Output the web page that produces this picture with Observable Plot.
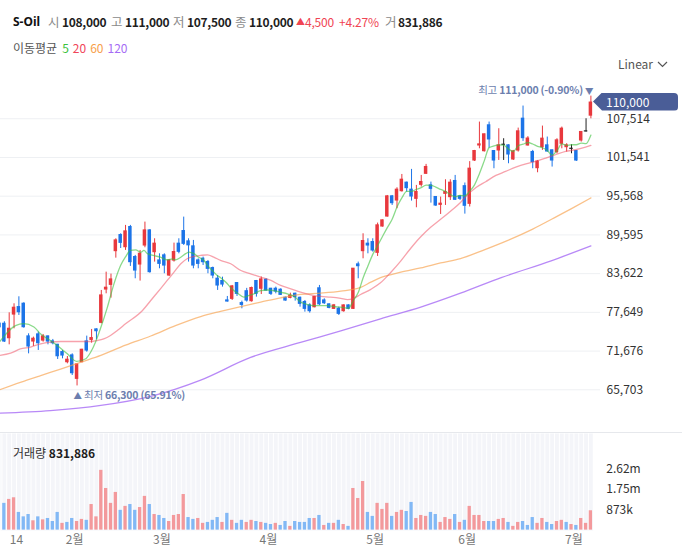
<!DOCTYPE html>
<html><head><meta charset="utf-8">
<script src="https://cdn.jsdelivr.net/npm/d3@7"></script>
<script src="https://cdn.jsdelivr.net/npm/@observablehq/plot@0.6"></script>
<style>
body{margin:0;background:#fff;}
#root{position:relative;width:682px;height:556px;overflow:hidden;font-family:"Noto Sans CJK KR","Noto Sans",sans-serif;color:#222;}
.abs{position:absolute;white-space:nowrap;}
.h{position:absolute;top:12px;font-size:12.5px;line-height:20px;white-space:nowrap;}
.g{color:#8a8a8a;}
.v{font-weight:600;color:#1e1e1e;font-size:12px;letter-spacing:-0.3px;}
.r{color:#f04452;font-size:12px;letter-spacing:-0.2px;}
</style></head><body><div id="root">
<span class="h" style="left:13px;font-weight:700;color:#111;font-family:'Noto Sans',sans-serif;font-size:12px">S-Oil</span>
<span class="h g" style="left:48px">시</span><span class="h v" style="left:62px">108,000</span>
<span class="h g" style="left:111px">고</span><span class="h v" style="left:125px">111,000</span>
<span class="h g" style="left:173px">저</span><span class="h v" style="left:187px">107,500</span>
<span class="h g" style="left:235px">종</span><span class="h v" style="left:249px">110,000</span>
<span class="h r" style="left:296px;font-size:9px">▲</span><span class="h r" style="left:305px">4,500</span>
<span class="h r" style="left:339px">+4.27%</span>
<span class="h g" style="left:385px">거</span><span class="h v" style="left:398px">831,886</span>
<div class="abs" style="left:13px;top:39px;font-size:12px;line-height:18px;color:#555;">이동평균<span style="margin-left:5px;color:#3cc13c">5</span><span style="margin-left:4px;color:#f0455a">20</span><span style="margin-left:4px;color:#f7a04a">60</span><span style="margin-left:4px;color:#a66cf5">120</span></div>
<div class="abs" style="left:618px;top:55px;font-size:12px;line-height:18px;color:#555;">Linear</div>
<svg class="abs" style="left:657px;top:61px" width="11" height="7"><polyline points="1,1 5.5,5.5 10,1" fill="none" stroke="#555" stroke-width="1.2"/></svg>
<div id="pricewrap" class="abs" style="left:0;top:75px;"></div>
<div class="abs" style="left:0;top:432px;width:682px;height:1px;background:#e6e8ec;"></div>
<div id="volwrap" class="abs" style="left:0;top:433px;"></div>
<div class="abs" style="left:13px;top:445px;font-size:12px;line-height:16px;color:#333;">거래량 <span style="font-weight:600;color:#1e1e1e">831,886</span></div>
</div>
<script>
// ---------- DATA ----------
const opens = [75900,75880,73670,77320,78450,78970,73930,73160,74240,73310,73930,73160,72640,71510,69970,71000,67400,69970,73160,73410,75010,76040,81180,81900,87100,89560,87710,90800,86170,85040,87970,90280,86940,85650,86430,83340,85650,88230,90180,88590,87820,85650,85910,85400,84470,82830,82470,79480,79740,82160,79070,80900,79380,82470,81300,82670,81280,81280,81130,79890,79890,80510,79890,79230,78710,78450,81350,79480,78870,78200,78200,77840,78710,78200,85040,87100,88230,88480,86840,90900,92440,95530,94910,96350,97640,96560,95170,97330,99030,97230,95430,94240,95940,95430,97900,95530,97100,94400,101080,103400,102520,106490,102520,102630,103500,103400,101240,102630,107510,103400,102370,99900,103140,103400,102630,102370,103660,103140,102880,102520,104170,105560,108000];
const highs = [76050,76200,77580,78970,80050,79120,74340,73830,74600,74240,74000,73470,72700,71770,70840,71250,69700,71950,73980,75010,75110,81030,83850,83550,89000,89770,91060,91060,86430,87200,91570,90400,89000,86680,86680,85750,88330,89000,92340,89000,88740,85900,86170,85650,84630,83340,83080,80100,81800,82200,79380,81350,81540,82570,83100,82830,81350,81540,81280,80000,80610,80610,80000,79480,78970,80100,81800,79740,78970,78870,78450,78800,78800,84400,85400,89770,89000,89000,91420,91900,95680,95680,96870,98920,97740,99700,97230,98770,100470,97740,95500,95430,98100,98100,98770,95680,97600,100900,102630,107000,105150,107000,102600,105970,104430,103500,102630,106070,109470,104750,102630,101080,106380,104690,102700,104430,106230,103660,103500,102630,105500,107510,111000];
const lows = [75200,73000,72640,75110,77170,75210,71250,72390,71770,73050,72640,72640,70380,70480,69710,67910,66300,69900,71510,72900,73410,75880,80510,79840,86010,87500,87200,84730,82830,82470,87610,83700,85400,84370,83600,83200,85400,86680,87970,85400,84370,84370,84880,83600,82830,81030,81540,79230,79480,80100,78200,79230,79230,80000,80400,80920,80250,80510,80250,79380,79740,79380,78450,77680,77530,78350,78700,78870,78200,78100,77170,77680,78050,78100,82830,85910,86680,86940,86270,90800,92340,94140,93630,96200,96200,94810,93780,96970,98920,94500,93990,92750,94140,94910,94910,94910,92800,93900,100930,102880,102370,102990,99800,101080,101080,100570,101080,102370,104020,103300,99800,99180,102630,102370,100060,102110,102880,102370,102110,100930,103910,105460,107500];
const closes = [75350,73160,75110,78350,77680,75370,72390,73570,72900,73930,73160,72900,70890,71000,70330,68270,69610,71870,71770,73670,74750,80250,81440,82720,88740,88380,90130,85400,84110,86680,90280,83860,88230,85140,84880,85650,86940,87000,88230,88000,84880,85140,85400,84370,83340,81800,81950,79330,81640,80510,78810,79480,81390,80510,82720,81030,80510,80870,80360,79480,80200,80000,78970,78200,77840,80000,78900,79070,78350,78710,77430,78710,78200,84370,84780,88640,87970,87200,91060,91830,95530,94500,96560,98100,96820,95530,96200,97740,100060,96710,94140,94400,96200,97640,95020,95170,94100,99800,102520,103550,105100,104330,101080,103400,103500,102010,102470,105560,104530,104450,100830,100900,104430,102470,101080,104170,105970,103400,102880,101080,105460,105560,110000];
// volume for candles 1..122 (candle 0 is cut off at the left edge)
const volumes = [1150000,1320000,1390000,760000,570000,670000,400000,570000,440000,500000,370000,760000,290000,330000,500000,370000,460000,420000,1100000,570000,2570000,1790000,1150000,1620000,850000,1020000,1100000,850000,970000,1450000,1100000,670000,630000,500000,370000,630000,670000,1530000,540000,460000,500000,290000,330000,420000,540000,330000,720000,420000,290000,420000,330000,420000,370000,330000,290000,240000,290000,200000,370000,160000,370000,330000,330000,500000,500000,630000,200000,290000,290000,420000,240000,160000,1790000,1360000,2090000,760000,590000,1150000,890000,1150000,590000,760000,850000,800000,1190000,500000,630000,590000,760000,670000,330000,540000,460000,670000,330000,420000,1020000,630000,630000,370000,370000,370000,460000,500000,330000,160000,330000,370000,200000,540000,290000,500000,330000,240000,370000,420000,330000,240000,200000,500000,290000,831886];
// 1 = up vs previous close (red), 0 = down (blue)
const volumeUp = [0,1,1,0,0,0,1,0,1,0,0,0,1,0,0,1,1,0,1,1,1,1,1,1,0,1,0,0,1,1,0,1,0,0,1,1,1,1,0,0,1,1,0,0,0,1,0,1,0,0,1,1,0,1,0,0,1,0,0,1,0,0,0,0,1,0,1,0,1,0,1,0,1,1,1,0,0,1,1,1,0,1,1,0,0,1,1,1,0,0,1,1,1,0,1,0,1,1,1,1,0,0,1,1,0,1,1,0,0,0,1,1,0,0,1,1,0,1,0,1,1,1];
const ma5 = [[0,73100],[3.3,75600],[5,75900],[7.1,75400],[8.5,74300],[10.5,73300],[12.3,72300],[14,71250],[15.9,70100],[17.8,70500],[18.8,71500],[19.8,73050],[20.9,75300],[22.2,78300],[23.6,82000],[25,84900],[26,86200],[27,87200],[28.1,87300],[29.1,86900],[29.8,87200],[30.5,86700],[31.9,86400],[33.2,86150],[34.6,85750],[35.7,85900],[36.3,85750],[37.4,86150],[38.4,86700],[39.1,86950],[40.1,86700],[41.1,86150],[42.2,85650],[42.9,84900],[43.9,84100],[44.9,83350],[45.6,83000],[46.7,82300],[47.7,81450],[49.1,80600],[50.4,80000],[51.5,80250],[52.5,80500],[53.9,81000],[55.3,81100],[56.6,81000],[58,80750],[59.4,80500],[60.8,80100],[62.1,79250],[63.5,78850],[64.9,78700],[66.3,78700],[67.6,78700],[69,78550],[70.4,78450],[72,78280],[73,79480],[74,80700],[75,82940],[76,84790],[77,86590],[78,87930],[79,89340],[80,90720],[81,92020],[82,93890],[83,95300],[84,96300],[85,96300],[86,96640],[87,96880],[88,97270],[89,97250],[90,96970],[91,96610],[92,96300],[93,95820],[94,95480],[95,95680],[96,95620],[97,96340],[98,97320],[99,99030],[100,101015],[101,103060],[102,103316],[103,103491],[104,103450],[105,102833],[106,102463],[107,103358],[108,103584],[109,103851],[110,103615],[111,103265],[112,103039],[113,102627],[114,101907],[115,102576],[116,103625],[117,103419],[118,103502],[119,103502],[120,103759],[121,103676],[122,104997]];
const ma20 = [[0,71000],[2.3,71350],[4.3,72000],[6.4,72300],[8.5,72800],[10.5,73050],[12.6,73150],[16.7,73150],[18.8,73150],[20.2,73300],[21.5,73550],[22.9,74080],[24.3,74850],[26,75880],[29.5,77940],[31.2,79480],[33.2,81280],[34.6,82570],[36,83850],[37.4,85140],[38.7,85910],[40.1,86270],[41.5,86430],[42.9,86530],[44.2,86170],[45.6,85655],[47.7,85140],[49.8,84100],[51.8,83598],[53.9,83083],[56,82569],[58,81798],[60.1,81283],[62.1,80769],[64.2,80358],[66.3,80100],[68.3,79997],[70.4,79800],[71.8,79600],[73.1,79850],[74.5,80400],[76.6,81200],[78.6,82200],[80.7,83800],[82.8,85600],[84.8,87500],[86.9,89300],[89,90800],[91,92000],[93.1,93300],[95.1,94600],[96.2,95500],[98.3,96900],[100.3,97800],[102.4,98770],[104.4,99387],[106.5,100056],[108.6,100570],[110.6,100930],[112.7,101444],[114.7,101959],[116.8,102473],[118.8,102730],[120.9,103141],[122,103399]];
const ma60 = [[0,65700],[4.3,66850],[8.5,67900],[12.6,68900],[16.7,69950],[20.9,71000],[26,72600],[31.2,74000],[36.3,75600],[41.5,77000],[45.6,77800],[49.8,78550],[53.9,79226],[58,79894],[62.1,80409],[66.3,80614],[70.4,80923],[74.5,81500],[76.6,82300],[78.6,83000],[82.8,83850],[86.9,84500],[91,85270],[95.1,85950],[100,87300],[105,88800],[110,90500],[115,92450],[118,93650],[122,95300]];
const ma120 = [[0,62100],[10.5,62500],[20.9,63300],[31.2,64700],[41.5,67200],[51.8,70700],[62.1,73000],[70.4,74800],[78.6,76650],[86.9,78450],[95.1,80600],[103.5,83000],[113.8,85600],[122,87900]];
const priceTicks = [65703,71676,77649,83622,89595,95568,101541,107514];
const volTicks = [873000,1750000,2620000];
const volTickLabels = ["873k","1.75m","2.62m"];
const monthIdx = [4,16,34,56,78,97,119];
const monthLabels = ["14","2월","3월","4월","5월","6월","7월"];
const lowValue = 66300, lowIdx = 16, highValue = 111000, highIdx = 122;

// ---------- CHART ----------
const RED = "#e8383d", BLUE = "#1c74e8", DOJI = "#222";
const candles = opens.map((o, k) => ({k, o, h: highs[k], l: lows[k], c: closes[k]}));
const cCol = d => d.c > d.o ? RED : d.c < d.o ? BLUE : DOJI;
const font = {fontFamily: '"Noto Sans CJK KR","Noto Sans",sans-serif', fontSize: "12px", color: "#333", background: "transparent", overflow: "visible"};
const xOpt = {type: "linear", domain: [0, 122], range: [-1, 590.4]};
const maLine = (data, stroke, op) => Plot.line(data, {x: d => d[0], y: d => d[1], stroke, strokeWidth: 1.3, strokeOpacity: op, curve: "monotone-x"});

const price = Plot.plot({
  width: 682, height: 357, marginLeft: 0, marginRight: 82, marginTop: 0, marginBottom: 0,
  style: font,
  x: {...xOpt, axis: null},
  y: {domain: [65703, 107514], range: [314.3, 43.24], label: null},
  color: {type: "identity"},
  marks: [
    Plot.ruleY(priceTicks, {stroke: "#eef0f3"}),
    Plot.ruleX(candles, {x: "k", y1: "l", y2: "h", stroke: cCol, strokeWidth: 1}),
    Plot.rect(candles, {x1: d => d.k - 0.36, x2: d => d.k + 0.36, y1: d => Math.min(d.o, d.c), y2: d => Math.max(d.o, d.c), fill: cCol, insetTop: -0.6, insetBottom: -0.6}),
    maLine(ma120, "#a66cf5", 0.8),
    maLine(ma60, "#f7a04a", 0.65),
    maLine(ma20, "#f0455a", 0.5),
    maLine(ma5, "#3cc13c", 0.6),
    Plot.axisY({anchor: "right", ticks: priceTicks, tickSize: 0, tickPadding: 6, tickFormat: d3.format(","), label: null, fontSize: 12, color: "#333"})
  ]
});
document.getElementById("pricewrap").appendChild(price);

const volData = volumes.map((v, i) => ({k: i + 1, v, up: volumeUp[i]}));
const allIdx = d3.range(opens.length);
const vol = Plot.plot({
  width: 682, height: 123, marginLeft: 0, marginRight: 89.2, marginTop: 0, marginBottom: 26,
  style: font,
  x: xOpt,
  y: {domain: [0, 2620000], range: [96.6, 35.68], label: null},
  color: {type: "identity"},
  marks: [
    Plot.frame({fill: "#f4f5f9", stroke: null}),
    Plot.ruleX(allIdx, {x: k => k + 0.5, stroke: "#ffffff", strokeWidth: 1}),
    Plot.rectY(volData, {x1: d => d.k - 0.34, x2: d => d.k + 0.34, y: "v", fill: d => d.up ? "#f3999c" : "#82b8f5"}),
    Plot.axisY({anchor: "right", ticks: volTicks, tickSize: 0, tickPadding: 13, tickFormat: d => volTickLabels[volTicks.indexOf(d)], label: null, fontSize: 12, color: "#333"}),
    Plot.axisX({anchor: "bottom", ticks: monthIdx, tickSize: 0, tickPadding: 5, tickFormat: d => monthLabels[monthIdx.indexOf(d)], label: null, fontSize: 12, color: "#777", dx: -2.5})
  ]
});
document.getElementById("volwrap").appendChild(vol);

// ---------- OVERLAYS positioned with the plot's own scales ----------
const root = document.getElementById("root");
const xs = price.scale("x"), ys = price.scale("y");
const top0 = 75;
const lastClose = closes[closes.length - 1];
const fmt = d3.format(",");
const cy = top0 + ys.apply(lastClose);
const box = document.createElement("div");
box.className = "abs";
box.textContent = fmt(lastClose);
Object.assign(box.style, {left: "593px", top: (cy - 9.5) + "px", width: "72px", height: "18px", lineHeight: "18px", paddingLeft: "13px", background: "#4a5d97", color: "#fff", fontSize: "12px", borderRadius: "0 4px 4px 0", clipPath: "polygon(0 50%, 9px 0, 100% 0, 100% 100%, 9px 100%)"});
root.appendChild(box);

const pct = v => (v * 100).toFixed(2) + "%";
const annStyle = {fontSize: "10.5px", lineHeight: "14px", color: "#6c7eae", fontFamily: '"Noto Sans CJK KR","Noto Sans",sans-serif', letterSpacing: "-0.2px"};
const hx = xs.apply(highIdx), hy = top0 + ys.apply(highValue);
const hi = document.createElement("div");
hi.className = "abs";
hi.innerHTML = '최고 <span style="font-weight:600">' + fmt(highValue) + ' (' + pct(lastClose / highValue - 1) + ')</span> <span style="font-size:8.5px">▼</span>';
Object.assign(hi.style, annStyle, {right: (682 - hx - 3) + "px", top: (hy - 12.5) + "px"});
root.appendChild(hi);

const lx = xs.apply(lowIdx), ly = top0 + ys.apply(lowValue);
const lo = document.createElement("div");
lo.className = "abs";
lo.innerHTML = '<span style="font-size:8.5px">▲</span> 최저 <span style="font-weight:600">' + fmt(lowValue) + ' (' + pct(lastClose / lowValue - 1) + ')</span>';
Object.assign(lo.style, annStyle, {left: (lx - 3) + "px", top: (ly + 2.5) + "px"});
root.appendChild(lo);
</script>
</body></html>
